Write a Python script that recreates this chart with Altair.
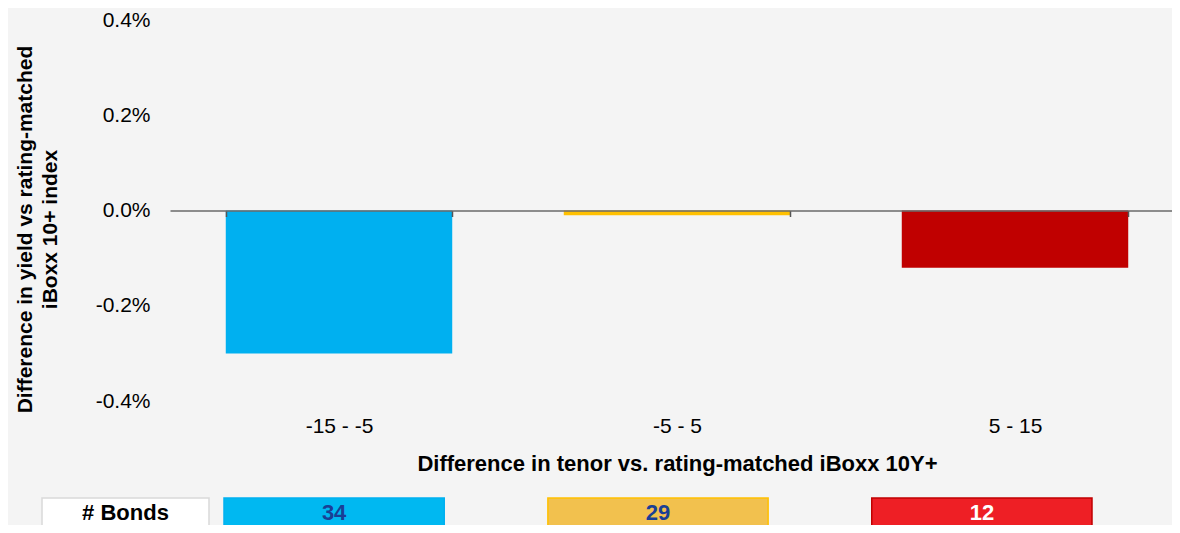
import altair as alt
import pandas as pd

# ---- data ----
categories = ["-15 - -5", "-5 - 5", "5 - 15"]
yield_diff = [-0.0030, -0.0001, -0.0012]
bond_counts = [34, 29, 12]
row_label = "# Bonds"
y_ticks = [-0.004, -0.002, 0.0, 0.002, 0.004]

# ---- styles ----
bar_colors = ["#00b0f0", "#ffc000", "#c00000"]
box_fills = ["#00b8f1", "#f2c14e", "#ee1f25"]
box_strokes = ["#00b0f0", "#ffc000", "#c00000"]
count_colors = ["#1a3f95", "#1a3f95", "#ffffff"]

FONT = "Liberation Sans"
W, H = 1002, 381

bars_df = pd.DataFrame({"cat": categories, "val": yield_diff})
table_df = pd.DataFrame({"cat": categories, "n": bond_counts, "row": [row_label] * len(categories)})
bonds_df = pd.DataFrame({"row": [row_label]})

x_main = alt.X(
    "cat:N", sort=categories,
    scale=alt.Scale(domain=categories, range=[0, 1014], paddingInner=0.33, paddingOuter=0.165),
    axis=alt.Axis(
        title="Difference in tenor vs. rating-matched iBoxx 10Y+",
        orient="bottom", offset=-190.5, tickBand="extent",
        ticks=True, tickSize=6, tickWidth=1.5, tickColor="#555555",
        domainColor="#6a6a6a", domainWidth=1.5,
        labelAngle=0, labelPadding=199, labelFontSize=21, labelColor="#000000",
        labelFont=FONT, titleFont=FONT, titleFontSize=22, titleFontWeight="bold",
        titleColor="#000000", titlePadding=43, titleX=507, zindex=1,
    ),
)

y_main = alt.Y(
    "val:Q",
    scale=alt.Scale(domain=[-0.004, 0.004], nice=False),
    axis=alt.Axis(
        values=y_ticks, format=".1%", labelExpr="replace(datum.label, '\u2212', '-')",
        grid=False, domain=False, ticks=False, tickSize=0,
        labelPadding=20, labelFontSize=21, labelFont=FONT, labelColor="#000000",
        title=["Difference in yield vs rating-matched", "iBoxx 10+ index"],
        titleFont=FONT, titleFontSize=21, titleFontWeight="bold", titleColor="#000000",
        titlePadding=35, titleLineHeight=25, titleY=209,
    ),
)

bars = alt.Chart(bars_df).mark_bar().encode(
    x=x_main,
    y=y_main,
    y2=alt.datum(0),
    color=alt.Color("cat:N", scale=alt.Scale(domain=categories, range=bar_colors), legend=None),
)

tx = alt.X("cat:N", sort=categories,
           scale=alt.Scale(domain=categories, range=[54, 922], paddingInner=0.32, paddingOuter=0),
           axis=None)
ty = alt.Y("row:N", scale=alt.Scale(domain=[row_label], range=[478, 522], paddingInner=0, paddingOuter=0),
           axis=None)

boxes = alt.Chart(table_df).mark_rect(strokeWidth=1.5).encode(
    x=tx, y=ty,
    fill=alt.Fill("cat:N", scale=alt.Scale(domain=categories, range=box_fills), legend=None),
    stroke=alt.Stroke("cat:N", scale=alt.Scale(domain=categories, range=box_strokes), legend=None),
)
counts = alt.Chart(table_df).mark_text(font=FONT, fontSize=22, fontWeight="bold", dy=-7).encode(
    x=tx, y=ty, text="n:Q",
    color=alt.Color("cat:N", scale=alt.Scale(domain=categories, range=count_colors), legend=None),
)
table = alt.layer(boxes, counts)

bx = alt.X("row:N", scale=alt.Scale(domain=[row_label], range=[-128, 39], paddingInner=0, paddingOuter=0),
           axis=None)
by = alt.Y("row:N", scale=alt.Scale(domain=[row_label], range=[478, 522], paddingInner=0, paddingOuter=0),
           axis=None)
bonds_rect = alt.Chart(bonds_df).mark_rect(fill="#ffffff", stroke="#d9d9d9", strokeWidth=1.5).encode(x=bx, y=by)
bonds_text = alt.Chart(bonds_df).mark_text(font=FONT, fontSize=22, fontWeight="bold", color="#000000", dy=-7).encode(
    x=bx, y=by, text="row:N")
bonds = alt.layer(bonds_rect, bonds_text)

chart = alt.layer(bars, table, bonds).resolve_scale(
    x="independent", y="independent", color="independent"
).properties(
    width=W, height=H, background="#f4f4f4",
    autosize=alt.AutoSizeParams(type="none"),
    padding={"left": 162, "top": 12, "right": 0, "bottom": 124},
).configure_view(strokeWidth=0)

chart.save("out.html", embed_options={"renderer": "svg", "actions": False})
